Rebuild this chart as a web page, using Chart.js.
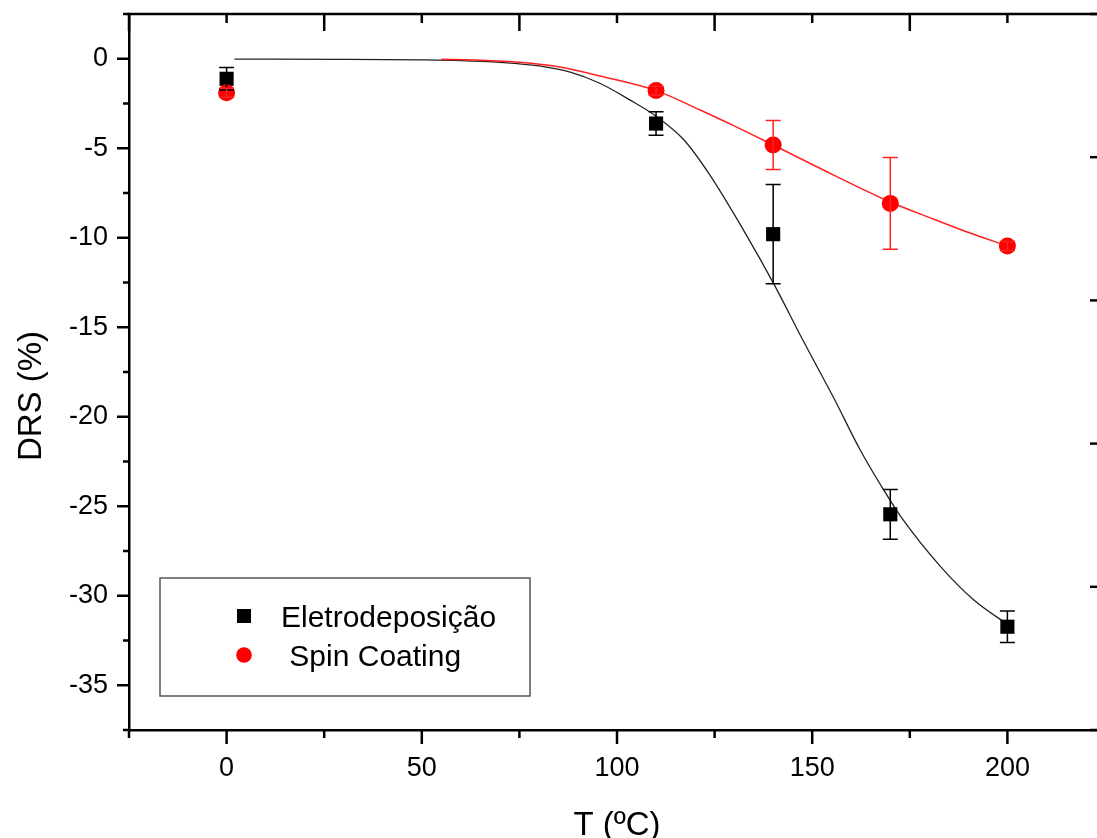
<!DOCTYPE html>
<html>
<head>
<meta charset="utf-8">
<title>DRS x T</title>
<script src="https://cdn.jsdelivr.net/npm/chart.js@4.4.1/dist/chart.umd.min.js"></script>
<style>
  html, body { margin: 0; padding: 0; background: #fff; overflow: hidden; }
  canvas { display: block; }
</style>
</head>
<body>
<canvas id="myChart-drs" width="1115" height="846"></canvas>
<script>
// temperaturas das amostras (ºC)
const temperaturas = [0, 110, 140, 170, 200];

// Eletrodeposição: DRS (%) e erro
const eletroDRS = [-1.12, -3.62, -9.8, -25.45, -31.73];
const eletroErro = [0.63, 0.66, 2.77, 1.39, 0.88];

// Spin Coating: DRS (%) e erro
const spinDRS = [-1.9, -1.78, -4.82, -8.08, -10.46];
const spinErro = [0.25, 0.25, 1.37, 2.56, 0.25];

// curvas de ajuste
const eletroCurvaT = [2, 30, 50, 60, 70, 80, 88, 95.6, 103.3, 110.2, 117, 123.8, 132.4, 140.1, 147.8, 155.4, 162.3, 168.3, 172.7, 183, 191.4, 200];
const eletroCurvaDRS = [-0.02, -0.03, -0.06, -0.1, -0.2, -0.4, -0.75, -1.37, -2.3, -3.24, -4.5, -6.5, -9.57, -12.55, -15.8, -18.9, -21.86, -24.09, -25.58, -28.4, -30.24, -31.6];
const spinCurvaT = [55, 65, 75, 85, 95.6, 110, 121.3, 130, 140, 155.5, 170, 181, 189.7, 200];
const spinCurvaDRS = [-0.03, -0.08, -0.2, -0.45, -0.96, -1.78, -2.86, -3.75, -4.82, -6.5, -8.0, -8.95, -9.68, -10.46];

// rotulos dos eixos
const xLabels = [0, 50, 100, 150, 200];
const yLabels = [0, -5, -10, -15, -20, -25, -30, -35];

const pontos = (xs, ys) => xs.map((x, i) => ({ x: x, y: ys[i] }));
const fonte = '"Liberation Sans", Arial, sans-serif';

// sem padding automatico nas escalas
const semPadding = scale => {
    scale.paddingTop = 0;
    scale.paddingBottom = 0;
    scale.paddingLeft = 0;
    scale.paddingRight = 0;
};

// barras de erro
const barrasErro = {
    id: 'barrasErro',
    afterDatasetsDraw(chart) {
        const { ctx, scales: { x, y } } = chart;
        chart.data.datasets.forEach(ds => {
            if (!ds.erros) return;
            ctx.save();
            ctx.strokeStyle = ds.corErro;
            ctx.lineWidth = 1.5;
            ds.data.forEach((p, i) => {
                const px = x.getPixelForValue(p.x);
                const yTop = y.getPixelForValue(p.y + ds.erros[i]);
                const yBot = y.getPixelForValue(p.y - ds.erros[i]);
                ctx.beginPath();
                ctx.moveTo(px, yTop); ctx.lineTo(px, yBot);
                ctx.moveTo(px - 7.5, yTop); ctx.lineTo(px + 7.5, yTop);
                ctx.moveTo(px - 7.5, yBot); ctx.lineTo(px + 7.5, yBot);
                ctx.stroke();
            });
            ctx.restore();
        });
    }
};

// moldura, marcas dos eixos, titulo do eixo y e legenda
const eixos = {
    id: 'eixos',
    afterDraw(chart) {
        const { ctx, chartArea: a, scales: { x, y } } = chart;
        const linha = (x1, y1, x2, y2) => {
            ctx.beginPath(); ctx.moveTo(x1, y1); ctx.lineTo(x2, y2); ctx.stroke();
        };
        ctx.save();
        ctx.strokeStyle = '#000';
        ctx.lineWidth = 2.5;
        linha(a.left - 1.25, a.top, a.right, a.top);

        for (let v = x.min; v <= x.max; v += 25) {
            const px = x.getPixelForValue(v);
            const major = v % 50 === 0;
            linha(px, a.bottom, px, a.bottom + (major ? 14 : 8));
            linha(px, a.top, px, a.top + (major ? 9 : 17));
        }
        for (let v = y.max; v >= y.min; v -= 2.5) {
            const py = y.getPixelForValue(v);
            linha(a.left, py, a.left - (v % 5 === 0 ? 12 : 6), py);
        }
        // eixo da direita (fora da imagem)
        for (let i = 0, v = y.max; v >= y.min; v -= 4, i++) {
            const py = y.getPixelForValue(v);
            linha(a.right, py, a.right - (i % 2 === 0 ? 15 : 8), py);
        }

        // titulo do eixo y
        ctx.fillStyle = '#000';
        ctx.font = '33px ' + fonte;
        ctx.textAlign = 'center';
        ctx.textBaseline = 'middle';
        ctx.translate(32, 396);
        ctx.rotate(-Math.PI / 2);
        ctx.fillText('DRS (%)', 0, 0);
        ctx.setTransform(1, 0, 0, 1, 0, 0);

        // legenda
        ctx.strokeStyle = '#555';
        ctx.lineWidth = 1.5;
        ctx.strokeRect(160, 578, 370, 118);
        ctx.font = '30px ' + fonte;
        ctx.textAlign = 'left';
        ctx.textBaseline = 'alphabetic';
        const itens = chart.data.datasets.filter(d => d.erros);
        itens.forEach((ds, i) => {
            const cy = 616 + i * 39;
            ctx.fillStyle = ds.backgroundColor;
            if (ds.pointStyle === 'rect') {
                ctx.fillRect(237, cy - 7, 14, 14);
            } else {
                ctx.beginPath(); ctx.arc(244, cy, 7.8, 0, Math.PI * 2); ctx.fill();
            }
            ctx.fillStyle = '#000';
            ctx.fillText(ds.label, 281, cy + 11);
        });
        ctx.restore();
    }
};

const ctx = document.getElementById('myChart-drs');

new Chart(ctx, {
    type: 'scatter',
    data: {
        datasets: [
            {
                label: 'Eletrodeposição',
                data: pontos(temperaturas, eletroDRS),
                erros: eletroErro,
                corErro: '#000',
                pointStyle: 'rect',
                pointRadius: 10,
                backgroundColor: '#000',
                borderWidth: 0,
                order: 1
            },
            {
                label: ' Spin Coating',
                data: pontos(temperaturas, spinDRS),
                erros: spinErro,
                corErro: '#ff2020',
                pointStyle: 'circle',
                pointRadius: 8.5,
                backgroundColor: '#ff0000',
                borderWidth: 0,
                order: 0
            },
            {
                type: 'line',
                label: 'ajuste eletro',
                data: pontos(eletroCurvaT, eletroCurvaDRS),
                borderColor: '#222',
                borderWidth: 1.3,
                pointRadius: 0,
                cubicInterpolationMode: 'monotone',
                order: 3
            },
            {
                type: 'line',
                label: 'ajuste spin',
                data: pontos(spinCurvaT, spinCurvaDRS),
                borderColor: '#ff2020',
                borderWidth: 1.5,
                pointRadius: 0,
                cubicInterpolationMode: 'monotone',
                order: 2
            }
        ]
    },
    options: {
        responsive: false,
        animation: false,
        devicePixelRatio: 1,
        layout: { autoPadding: false, padding: { top: 14, right: 10, left: 0, bottom: 0 } },
        plugins: {
            legend: { display: false },
            tooltip: { enabled: false }
        },
        scales: {
            x: {
                type: 'linear',
                min: -25,
                max: 225,
                grid: { display: false, drawTicks: false },
                border: { color: '#000', width: 2.5 },
                ticks: {
                    stepSize: 25,
                    autoSkip: false,
                    maxRotation: 0,
                    padding: 22,
                    color: '#000',
                    font: { family: fonte, size: 27 },
                    callback: v => xLabels.includes(v) ? String(v) : ''
                },
                title: {
                    display: true,
                    text: 'T (ºC)',
                    color: '#000',
                    padding: 0,
                    font: { family: fonte, size: 33 }
                },
                afterFit: scale => { scale.height = 116; semPadding(scale); }
            },
            y: {
                type: 'linear',
                min: -37.5,
                max: 2.5,
                grid: { display: false, drawTicks: false },
                border: { color: '#000', width: 2.5 },
                ticks: {
                    stepSize: 2.5,
                    autoSkip: false,
                    padding: 21,
                    color: '#000',
                    font: { family: fonte, size: 27 },
                    callback: v => yLabels.includes(v) ? String(v) : ''
                },
                afterFit: scale => { scale.width = 129; semPadding(scale); }
            }
        }
    },
    plugins: [barrasErro, eixos]
});
</script>
</body>
</html>
